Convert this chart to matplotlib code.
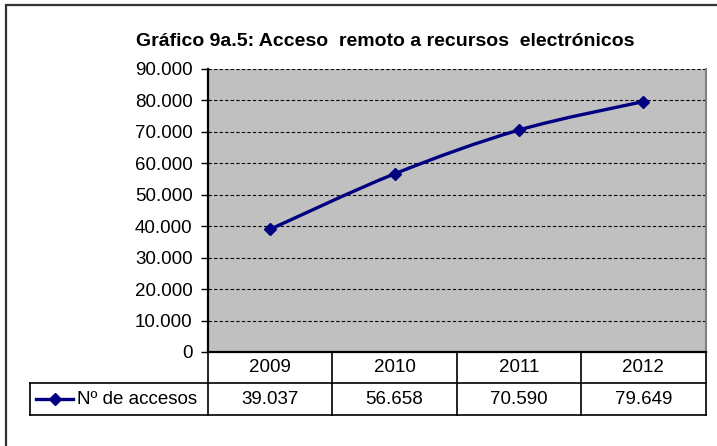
import matplotlib
matplotlib.use("Agg")
import matplotlib.pyplot as plt
from matplotlib.path import Path
from matplotlib.patches import PathPatch, Rectangle
from matplotlib.transforms import blended_transform_factory
from matplotlib.lines import Line2D
import numpy as np

years = ["2009", "2010", "2011", "2012"]
accesos = [39037, 56658, 70590, 79649]
value_labels = ["39.037", "56.658", "70.590", "79.649"]
series_name = "Nº de accesos"
title = "Gráfico 9a.5: Acceso  remoto a recursos  electrónicos"
yticks = [0, 10000, 20000, 30000, 40000, 50000, 60000, 70000, 80000, 90000]
ytick_labels = ["0", "10.000", "20.000", "30.000", "40.000", "50.000",
                "60.000", "70.000", "80.000", "90.000"]

plt.rcParams['font.family'] = ['Liberation Sans', 'DejaVu Sans']
W, H = 717, 446
fig = plt.figure(figsize=(W / 100, H / 100), dpi=100)
fig.patch.set_facecolor('white')

# outer frame
frame = Rectangle((6 / W, -0.05), 1.2, (H - 5) / H + 0.05, transform=fig.transFigure,
                  fill=False, edgecolor='#333333', linewidth=1.6)
fig.patches.append(frame)

left, right, top, bottom = 208, 705.5, 69, 352
ax = fig.add_axes([left / W, (H - bottom) / H, (right - left) / W, (bottom - top) / H])
ax.set_facecolor('#C0C0C0')
ax.set_xlim(0, len(years))
ax.set_ylim(0, 90000)

FS = 13.5

# gridlines
for v in yticks[1:]:
    ax.axhline(v, color='black', linewidth=0.8, linestyle=(0, (3, 2)), zorder=1)

ax.set_yticks(yticks)
ax.set_yticklabels(ytick_labels, fontsize=FS)
ax.set_xticks([])
ax.tick_params(axis='y', direction='out', length=5, width=1, pad=6, colors='black')
ax.spines['top'].set_visible(False)
ax.spines['right'].set_color('#808080')
ax.spines['right'].set_linewidth(1.5)
ax.spines['left'].set_linewidth(1.6)
ax.spines['bottom'].set_linewidth(1.6)

# smooth line (Catmull-Rom through data points)
xs = np.arange(len(years)) + 0.5
ys = np.array(accesos, dtype=float)
verts = [(xs[0], ys[0])]
codes = [Path.MOVETO]
n = len(xs)
t = 1 / 6
for i in range(n - 1):
    p0 = np.array([xs[max(i - 1, 0)], ys[max(i - 1, 0)]])
    p1 = np.array([xs[i], ys[i]])
    p2 = np.array([xs[i + 1], ys[i + 1]])
    p3 = np.array([xs[min(i + 2, n - 1)], ys[min(i + 2, n - 1)]])
    c1 = p1 + (p2 - p0) * t
    c2 = p2 - (p3 - p1) * t
    verts += [tuple(c1), tuple(c2), tuple(p2)]
    codes += [Path.CURVE4] * 3
patch = PathPatch(Path(verts, codes), facecolor='none', edgecolor='#000080',
                  linewidth=2.4, zorder=3, capstyle='round', joinstyle='round')
ax.add_patch(patch)
ax.plot(xs, ys, linestyle='none', marker='D', markersize=6.5, color='#000080', zorder=4)

# title
fig.text(385 / W, (H - 41) / H, title, ha='center', va='center',
         fontsize=14, fontweight='bold')

# data table under the axis
tr = blended_transform_factory(ax.transData, ax.transAxes)
ph = bottom - top
r1 = -(383 - bottom) / ph
r2 = -(415 - bottom) / ph
hx = -(left - 30) / (right - left) * len(years)
lw = 1.2
lines = []
for i in range(len(years) + 1):
    lines.append(([i, i], [0, r2]))
lines.append(([0, len(years)], [r1, r1]))
lines.append(([hx, 0], [r1, r1]))
lines.append(([hx, len(years)], [r2, r2]))
lines.append(([hx, hx], [r1, r2]))
for xx, yy in lines:
    ax.add_line(Line2D(xx, yy, transform=tr, color='black', linewidth=lw, clip_on=False))

for i, (yr, lab) in enumerate(zip(years, value_labels)):
    ax.text(i + 0.5, r1 / 2, yr, transform=tr, ha='center', va='center', fontsize=FS)
    ax.text(i + 0.5, (r1 + r2) / 2, lab, transform=tr, ha='center', va='center', fontsize=FS)

# legend key in header cell
ym = (r1 + r2) / 2
lx0 = -(left - 36) / (right - left) * len(years)
lx1 = -(left - 73) / (right - left) * len(years)
lxm = -(left - 55) / (right - left) * len(years)
ax.add_line(Line2D([lx0, lx1], [ym, ym], transform=tr, color='#000080', linewidth=2.4,
                   clip_on=False))
ax.add_line(Line2D([lxm], [ym], transform=tr, color='#000080', marker='D', markersize=6.5,
                   linestyle='none', clip_on=False))
ax.text(-(left - 77) / (right - left) * len(years), ym, series_name, transform=tr,
        ha='left', va='center', fontsize=FS)

fig.savefig('out.png', dpi=100)
